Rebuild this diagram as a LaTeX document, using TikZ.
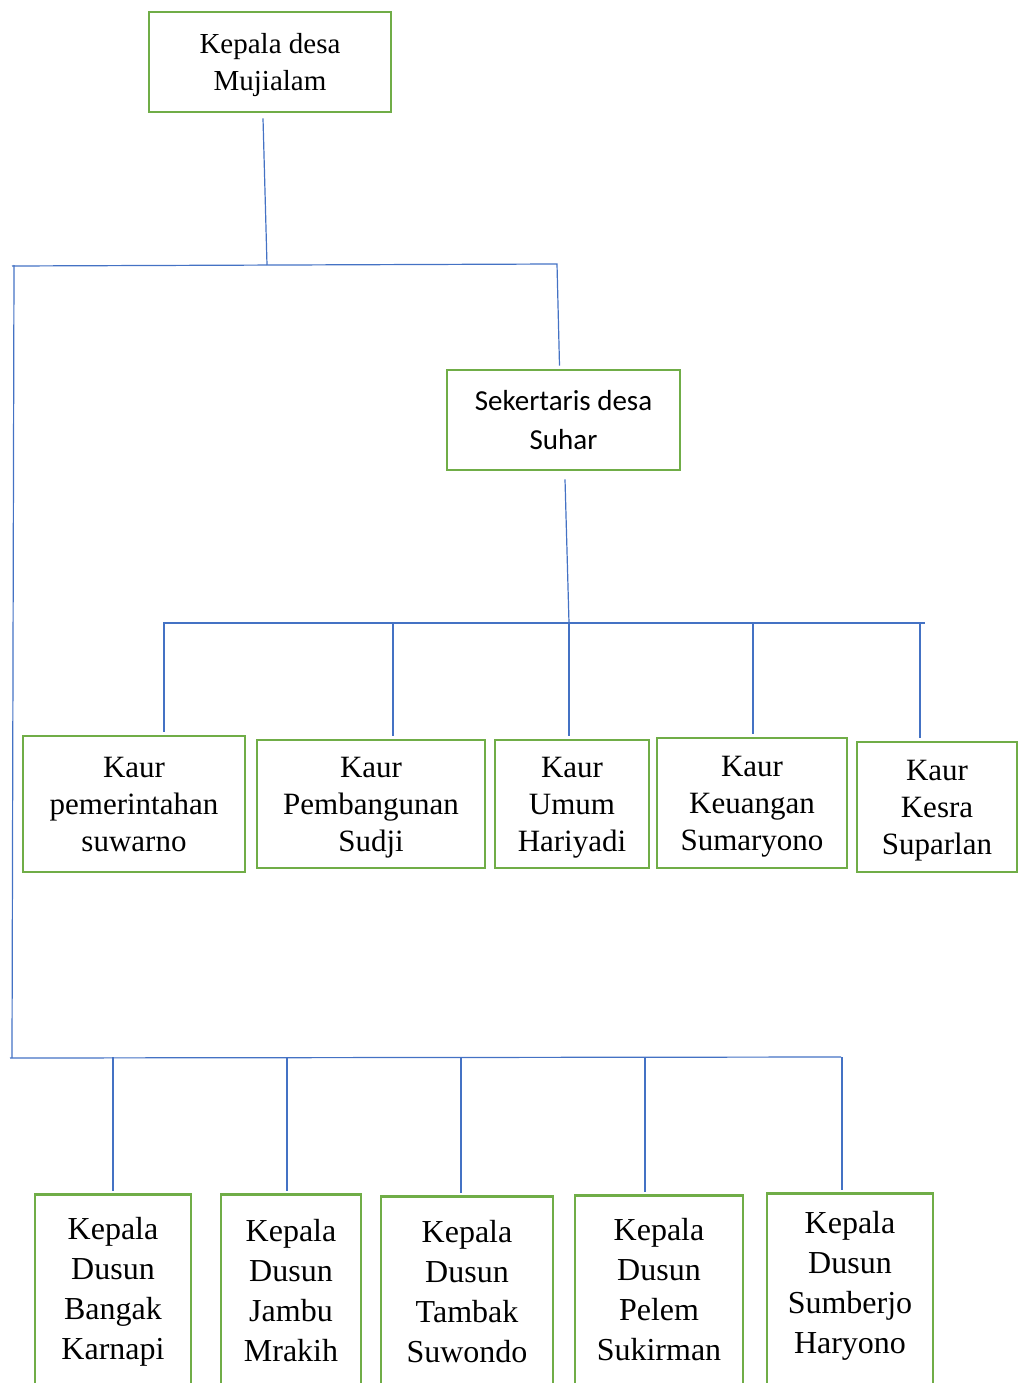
\documentclass[tikz,border=0pt]{standalone}
\usepackage{fontspec}
\setmainfont{Liberation Serif}
\newfontfamily\calibrifont{Carlito}
\definecolor{boxgreen}{HTML}{70AD47}
\definecolor{lineblue}{HTML}{4472C4}

\begin{document}
\begin{tikzpicture}[x=1pt,y=-1pt,
    jabatan/.style={draw=boxgreen, line width=2.6pt, inner sep=0pt, align=center, text depth=0pt},
    nama/.style={inner sep=0pt, align=center, text depth=0pt},
    link/.style={draw=lineblue, line width=1.2pt},
  ]
\useasboundingbox (0,0) rectangle (1018,1383);

% Kepala desa and sekertaris
\node[jabatan, minimum width=242pt, minimum height=100pt,
      font=\fontsize{29}{37}\selectfont] (kades) at (270,62) {Kepala desa\\Mujialam};
\node[jabatan, minimum width=233pt, minimum height=100pt,
      font=\calibrifont\fontsize{29}{39}\selectfont] (sekdes) at (563.5,420) {Sekertaris desa\\Suhar};

% Kaur boxes
\foreach \n/\cx/\cy/\w/\h/\txt in {
    kaurA/134/804/222/136/{Kaur\\pemerintahan\\suwarno},
    kaurB/371/804/228/128/{Kaur\\Pembangunan\\Sudji},
    kaurC/572/804/154/128/{Kaur\\Umum\\Hariyadi},
    kaurD/752/803/190/130/{Kaur\\Keuangan\\Sumaryono},
    kaurE/937/807/160/130/{Kaur\\Kesra\\Suparlan}}
    \node[jabatan, minimum width=\w pt, minimum height=\h pt,
          font=\fontsize{31}{37}\selectfont] (\n) at (\cx,\cy) {\txt};

% Kepala dusun boxes (run past the bottom edge)
\foreach \n/\cx/\top/\cy/\w/\txt in {
    dusunA/113/1193/1288/156/{Kepala\\Dusun\\Bangak\\Karnapi},
    dusunB/291/1193/1290/140/{Kepala\\Dusun\\Jambu\\Mrakih},
    dusunC/467/1195/1291/172/{Kepala\\Dusun\\Tambak\\Suwondo},
    dusunD/659/1194/1289/168/{Kepala\\Dusun\\Pelem\\Sukirman},
    dusunE/850/1192/1282/166/{Kepala\\Dusun\\Sumberjo\\Haryono}}
  {
    \node[jabatan, anchor=north, minimum width=\w pt, minimum height=240pt] (\n) at (\cx,\top) {};
    \node[nama, font=\fontsize{32}{40}\selectfont] (\n-nama) at (\cx,\cy) {\txt};
  }

% Junction points
\coordinate (hubA) at (267,265);
\coordinate (hubAl) at (12,266);
\coordinate (hubAr) at (557,264);
\coordinate (sideTop) at (14,265);
\coordinate (sideBot) at (12,1058);
\coordinate (hubB) at (569,623);
\coordinate (hubBl) at (163,623);
\coordinate (hubBr) at (925,623);
\coordinate (hubCl) at (10,1058);
\coordinate (hubCr) at (841,1057);

% Upper part
\draw[link] ([xshift=-7pt,yshift=-5pt]kades.south) -- (hubA);
\draw[link] (hubAl) -- (hubAr) -- ([xshift=-4pt,yshift=3pt]sekdes.north);
\draw[link] (sideTop) -- (sideBot);
\draw[link] ([xshift=1.5pt,yshift=-8pt]sekdes.south) -- (hubB);

% Kaur bar and drops
\draw[link] (hubBl) -- (hubBr);
\foreach \n/\x in {kaurA/164,kaurB/393,kaurC/569,kaurD/753,kaurE/920}
    \draw[link, shorten >=3pt] (\x,623) -- (\x,0 |- \n.north);

% Dusun bar and drops
\draw[link] (hubCl) -- (hubCr);
\foreach \n/\x in {dusunA/113,dusunB/287,dusunC/461,dusunD/645,dusunE/842}
    \draw[link, shorten >=2pt] (\x,1057) -- (\x,0 |- \n.north);
\end{tikzpicture}
\end{document}
